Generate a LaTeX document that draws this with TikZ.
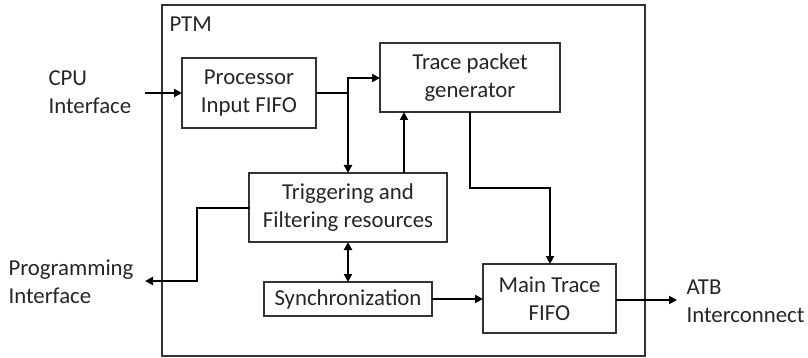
\documentclass[tikz,border=0pt]{standalone}
\usepackage{fontspec}
\setmainfont{Carlito}
\usetikzlibrary{arrows.meta}
\begin{document}
\begin{tikzpicture}[x=1pt,y=-1pt,
  blk/.style={draw=black!80,line width=1.3pt,fill=white},
  lbl/.style={align=center,font=\fontsize{22.8}{28}\selectfont,text=black!85},
  conn/.style={line width=2.9pt,-{Triangle[length=8pt,width=8pt]}},
  biconn/.style={line width=2.9pt,{Triangle[length=8pt,width=8pt]}-{Triangle[length=8pt,width=8pt]}}]
\useasboundingbox (0,0) rectangle (808,358);
\draw[blk] (162,5) rectangle (645,356);
\node[lbl,anchor=west] (ptm) at (166,24) {PTM};
% blocks
\draw[blk] (182,58) rectangle (316,128);
\node[lbl] (pif) at (249,93) {Processor\\Input FIFO};
\coordinate (pifE) at (316,93);
\draw[blk] (380,43) rectangle (560,112);
\node[lbl] (tpg) at (470,77.5) {Trace packet\\generator};
\draw[blk] (249,173) rectangle (447,242);
\node[lbl] (tf) at (348,207.5) {Triggering and\\Filtering resources};
\draw[blk] (264,282) rectangle (432,316);
\node[lbl] (sync) at (348,299) {Synchronization};
\draw[blk] (483,264) rectangle (616,333);
\node[lbl] (mtf) at (549.5,298.5) {Main Trace\\FIFO};
% external labels
\node[lbl,align=left,anchor=west] (cpu) at (45,92) {CPU\\Interface};
\node[lbl,align=left,anchor=west] (prog) at (5,282) {Programming\\Interface};
\node[lbl,align=left,anchor=west] (atb) at (683,301) {ATB\\Interconnect};
% connectors
\coordinate (cpuE) at (145,93);
\draw[conn] (cpuE) -- (182,93);
\coordinate (j1) at (348,93);
\draw[conn] (pifE) -- (j1) |- (380,78);
\draw[conn] (j1) -- (348,173);
\draw[conn] (404,173) -- (404,112);
\draw[conn] (470,112) |- (550,188) -- (550,264);
\draw[biconn] (348,242) -- (348,282);
\coordinate (progE) at (145,281);
\draw[conn] (249,208) -| (197,281) -- (progE);
\draw[conn] (432,299) -- (483,299);
\coordinate (atbW) at (677,300);
\draw[conn] (616,300) -- (atbW);
\end{tikzpicture}
\end{document}
